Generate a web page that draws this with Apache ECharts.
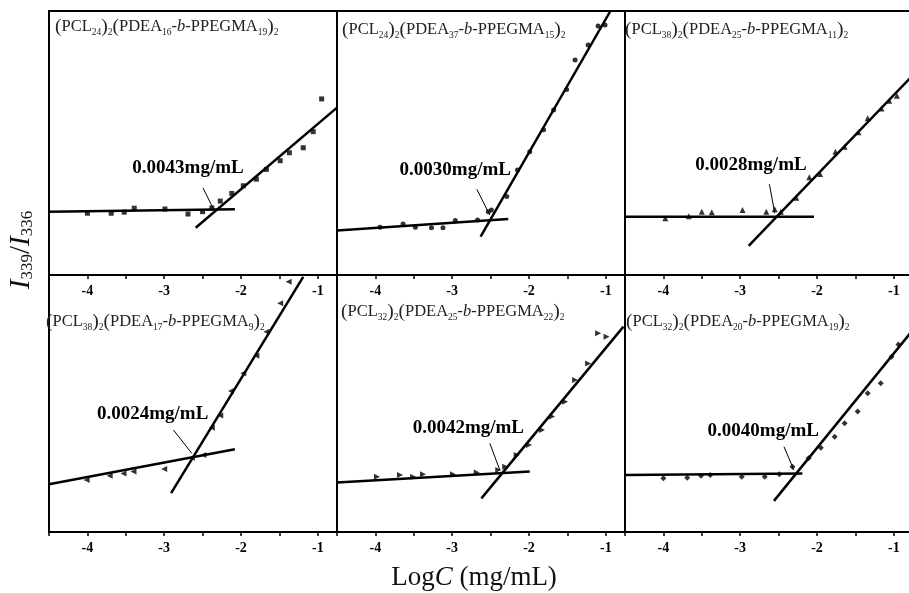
<!DOCTYPE html>
<html>
<head>
<meta charset="utf-8">
<script src="https://cdn.jsdelivr.net/npm/echarts@6/dist/echarts.min.js"></script>
<style>
  html, body { margin: 0; padding: 0; background: #fff; }
  #chart { width: 909px; height: 593px; }
</style>
</head>
<body>
<div id="chart"></div>
<script>
// x axis (LogC) shared by all six panels
const xMin = -4.5, xMax = -0.75, tickStep = 0.5;
const tickLabels = ['-4', '-3', '-2', '-1'];

// panel order: top-left, top-mid, top-right, bottom-left, bottom-mid, bottom-right
const pclLen = [24, 24, 38, 38, 32, 32];
const pdeaLen = [16, 37, 25, 17, 25, 20];
const ppegmaLen = [19, 15, 11, 9, 22, 19];
const cmcLabels = ['0.0043mg/mL', '0.0030mg/mL', '0.0028mg/mL', '0.0024mg/mL', '0.0042mg/mL', '0.0040mg/mL'];

// measured points, y is I339/I336 in relative units (0-100 of each panel)
const logC1 = [-4.0, -3.69, -3.52, -3.39, -2.99, -2.69, -2.50, -2.38, -2.27, -2.12, -1.97, -1.80, -1.67, -1.49, -1.37, -1.19, -1.06, -0.95];
const ratio1 = [23.4, 23.4, 23.8, 25.3, 25.0, 23.1, 24.0, 25.4, 28.0, 30.9, 33.8, 36.3, 40.0, 43.3, 46.3, 48.2, 54.3, 66.7];
const logC2 = [-3.94, -3.64, -3.48, -3.27, -3.12, -2.96, -2.67, -2.53, -2.49, -2.29, -2.15, -1.99, -1.81, -1.68, -1.51, -1.40, -1.23, -1.10, -1.01];
const ratio2 = [18.1, 19.3, 18.1, 17.9, 17.9, 20.6, 20.8, 24.0, 24.6, 29.7, 39.8, 46.7, 55.0, 62.5, 70.3, 81.4, 87.1, 94.3, 94.7];
const logC3 = [-3.975, -3.67, -3.50, -3.37, -2.97, -2.66, -2.55, -2.47, -2.27, -2.10, -1.96, -1.76, -1.64, -1.46, -1.34, -1.16, -1.06, -0.96];
const ratio3 = [21.5, 22.3, 24.0, 23.75, 24.6, 24.0, 24.9, 24.0, 29.3, 37.0, 38.3, 46.7, 48.6, 54.05, 59.4, 63.1, 66.0, 67.9];
const logC4 = [-4.01, -3.71, -3.53, -3.40, -3.00, -2.64, -2.49, -2.38, -2.27, -2.13, -1.97, -1.80, -1.67, -1.49, -1.38];
const ratio4 = [20.2, 21.9, 22.8, 23.5, 24.5, 28.9, 30.0, 40.6, 45.3, 54.9, 61.8, 68.6, 77.9, 89.0, 97.4];
const logC5 = [-3.98, -3.68, -3.51, -3.38, -2.99, -2.68, -2.40, -2.31, -2.16, -2.00, -1.83, -1.70, -1.53, -1.40, -1.23, -1.10, -0.99];
const ratio5 = [21.5, 22.2, 21.5, 22.5, 22.5, 23.2, 24.1, 25.4, 30.0, 33.9, 39.7, 44.9, 50.7, 59.1, 65.6, 77.3, 76.0];
const logC6 = [-4.00, -3.69, -3.51, -3.39, -2.98, -2.68, -2.49, -2.32, -2.11, -1.95, -1.77, -1.64, -1.47, -1.34, -1.17, -1.03, -0.94];
const ratio6 = [20.9, 21.1, 21.9, 22.2, 21.5, 21.5, 22.5, 25.4, 28.7, 32.8, 37.1, 42.3, 46.9, 54.0, 57.9, 68.2, 73.0];

// fitted lines: [[x1, y1], [x2, y2]]
const flatFits = [
    [[-4.5, 24.0], [-2.08, 24.9]],
    [[-4.5, 16.9], [-2.27, 21.2]],
    [[-4.5, 22.1], [-2.04, 22.1]],
    [[-4.5, 18.6], [-2.08, 32.2]],
    [[-4.5, 19.3], [-1.99, 23.5]],
    [[-4.5, 22.2], [-2.19, 22.8]]
];
const steepFits = [
    [[-2.59, 17.9], [-0.75, 63.4]],
    [[-2.63, 14.5], [-0.94, 100]],
    [[-2.89, 11.0], [-0.79, 74.5]],
    [[-2.91, 15.1], [-1.19, 99.3]],
    [[-2.62, 13.1], [-0.77, 79.9]],
    [[-2.56, 12.1], [-0.79, 77.2]]
];

// cmc annotation: text centre and arrow from -> to
const cmcLabelPos = [[-2.69, 40.5], [-2.96, 39.8], [-2.86, 41.7], [-3.15, 45.9], [-2.79, 40.5], [-2.70, 39.3]];
const cmcArrows = [
    [[-2.495, 33.0], [-2.365, 25.4]],
    [[-2.68, 32.5], [-2.51, 22.7]],
    [[-2.62, 34.4], [-2.55, 23.4]],
    [[-2.88, 39.7], [-2.64, 30.6]],
    [[-2.51, 34.5], [-2.38, 24.1]],
    [[-2.43, 33.2], [-2.30, 24.1]]
];

const logC = [logC1, logC2, logC3, logC4, logC5, logC6];
const ratio = [ratio1, ratio2, ratio3, ratio4, ratio5, ratio6];
const symbols = ['rect', 'circle', 'triangle', 'triangle', 'triangle', 'diamond'];
const symbolRotates = [0, 0, 0, 90, -90, 0];
const symbolSizes = [5, 5, 6, 6, 6, 6];

const colLeft = [49, 337, 625];
const rowTop = [11, 275];
const rowHeight = [264, 257];
const panelWidth = 288;
const titleOffset = [[6, 6], [5, 9], [0, 9], [-3, 37], [4, 27], [1, 37]];

const serif = 'Liberation Serif, Times New Roman, serif';

const titleRich = {
    n: { fontFamily: serif, fontSize: 16.5, fontWeight: 'normal', color: '#222', lineHeight: 20 },
    p: { fontFamily: serif, fontSize: 19.5, fontWeight: 'normal', color: '#222', lineHeight: 20 },
    i: { fontFamily: serif, fontSize: 16.5, fontWeight: 'normal', fontStyle: 'italic', color: '#222', lineHeight: 20 },
    s: { fontFamily: serif, fontSize: 9.5, fontWeight: 'normal', color: '#222', lineHeight: 8, verticalAlign: 'bottom' }
};

const myChart = echarts.init(document.getElementById('chart'));

const grids = [], xAxes = [], yAxes = [], titles = [], series = [];

for (let i = 0; i < 6; i++) {
    const row = Math.floor(i / 3), col = i % 3;
    grids.push({
        left: colLeft[col],
        top: rowTop[row],
        width: panelWidth,
        height: rowHeight[row],
        show: true,
        borderColor: '#000',
        borderWidth: 2,
        outerBoundsMode: 'none',
        containLabel: false
    });
    xAxes.push({
        gridIndex: i,
        type: 'value',
        min: xMin,
        max: xMax,
        interval: tickStep,
        axisLine: { show: true, onZero: false, lineStyle: { color: '#000', width: 2 } },
        axisTick: { show: true, length: 4, lineStyle: { color: '#000', width: 1.5 } },
        axisLabel: {
            color: '#000',
            fontFamily: serif,
            fontWeight: 'bold',
            fontSize: 14,
            margin: 9,
            formatter: v => tickLabels.includes(String(v)) ? String(v) : ''
        },
        splitLine: { show: false }
    });
    yAxes.push({ gridIndex: i, type: 'value', min: 0, max: 100, show: false });

    titles.push({
        left: colLeft[col] + titleOffset[i][0],
        top: rowTop[row] + titleOffset[i][1],
        text: '{p|(}{n|PCL}{s|' + pclLen[i] + '}{p|)}{s|2}{p|(}{n|PDEA}{s|' + pdeaLen[i] +
            '}{n|-}{i|b}{n|-PPEGMA}{s|' + ppegmaLen[i] + '}{p|)}{s|2}',
        textStyle: { fontWeight: 'normal', fontFamily: serif, color: '#222', rich: titleRich },
        padding: 0
    });

    series.push({
        type: 'scatter',
        xAxisIndex: i,
        yAxisIndex: i,
        symbol: symbols[i],
        symbolSize: symbolSizes[i],
        symbolRotate: symbolRotates[i],
        itemStyle: { color: '#000' },
        data: logC[i].map((x, k) => [x, ratio[i][k]])
    });
    series.push({
        type: 'line',
        xAxisIndex: i,
        yAxisIndex: i,
        showSymbol: false,
        lineStyle: { color: '#000', width: 2.5 },
        data: flatFits[i]
    });
    series.push({
        type: 'line',
        xAxisIndex: i,
        yAxisIndex: i,
        showSymbol: false,
        lineStyle: { color: '#000', width: 2.5 },
        data: steepFits[i],
        markLine: {
            silent: true,
            symbol: ['none', 'arrow'],
            symbolSize: [0, 7],
            label: { show: false },
            lineStyle: { color: '#000', width: 1, type: 'solid' },
            data: [[{ coord: cmcArrows[i][0] }, { coord: cmcArrows[i][1] }]]
        }
    });
    series.push({
        type: 'scatter',
        xAxisIndex: i,
        yAxisIndex: i,
        symbolSize: 0,
        silent: true,
        itemStyle: { color: '#000', opacity: 0 },
        label: {
            show: true,
            position: 'inside',
            formatter: cmcLabels[i],
            color: '#000',
            opacity: 1,
            textBorderWidth: 0,
            fontFamily: serif,
            fontWeight: 'bold',
            fontSize: 19
        },
        data: [cmcLabelPos[i]]
    });
}

const option = {
    animation: false,
    backgroundColor: '#fff',
    title: titles,
    grid: grids,
    xAxis: xAxes,
    yAxis: yAxes,
    series: series,
    graphic: [
        {
            type: 'text',
            x: 21,
            y: 250,
            rotation: Math.PI / 2,
            style: {
                text: '{i|I}{s|339}{n|/}{i|I}{s|336}',
                align: 'center',
                verticalAlign: 'middle',
                rich: {
                    i: { fontFamily: serif, fontSize: 29, fontStyle: 'italic', fill: '#111', lineHeight: 30 },
                    n: { fontFamily: serif, fontSize: 29, fill: '#111', lineHeight: 30 },
                    s: { fontFamily: serif, fontSize: 17, fill: '#111', lineHeight: 20, verticalAlign: 'bottom' }
                }
            }
        },
        {
            type: 'text',
            x: 474,
            y: 578,
            style: {
                text: '{n|Log}{i|C}{n| (mg/mL)}',
                align: 'center',
                verticalAlign: 'middle',
                rich: {
                    n: { fontFamily: serif, fontSize: 27, fill: '#111' },
                    i: { fontFamily: serif, fontSize: 27, fontStyle: 'italic', fill: '#111' }
                }
            }
        }
    ]
};

myChart.setOption(option);
</script>
</body>
</html>
